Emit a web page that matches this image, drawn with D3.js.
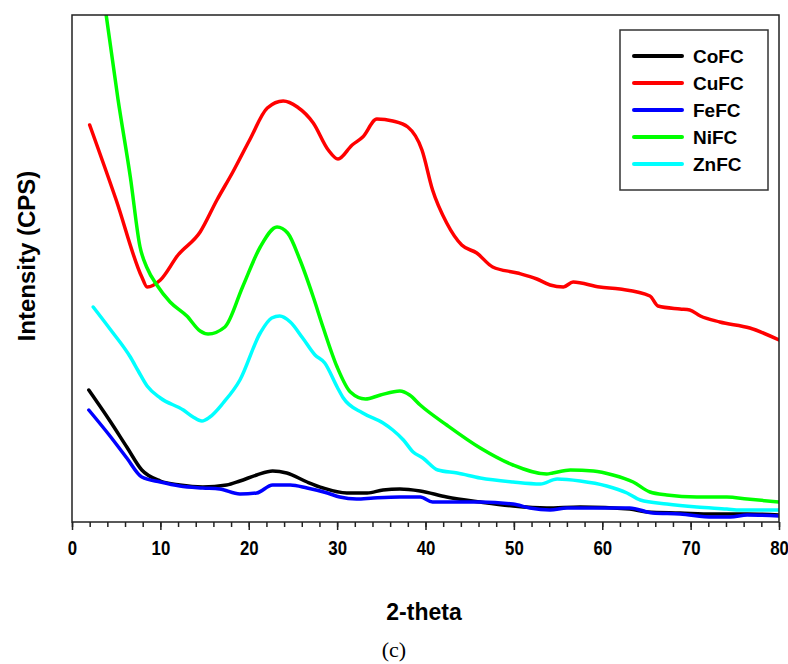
<!DOCTYPE html>
<html>
<head>
<meta charset="utf-8">
<script src="https://cdn.jsdelivr.net/npm/d3@7"></script>
<style>
  body { margin: 0; background: #fff; }
  svg { display: block; }
</style>
</head>
<body>
<svg width="788" height="664"></svg>
<script>
// XRD patterns, intensity (arbitrary CPS units)
var seriesNames = ['CoFC', 'CuFC', 'FeFC', 'NiFC', 'ZnFC'];
var seriesColors = ['#000000', '#ff0000', '#0000ff', '#00ff00', '#00ffff'];
var xTicks = [0, 10, 20, 30, 40, 50, 60, 70, 80];

var coTheta = [1.9, 4.3, 6.2, 7.9, 10.0, 12.2, 14.8, 17.5, 19.0, 20.9, 22.7, 24.3, 26.6, 28.4, 31.1, 33.4, 35.2, 37.1, 39.4, 42.4, 46.2, 49.9, 53.7, 57.5, 63.1, 65.1, 68.8, 72.5, 76.4, 80];
var coVals  = [132, 101, 75, 52, 41, 37, 35, 37, 41, 47, 51, 49, 40, 34, 29, 29, 32, 33, 31, 25, 20, 16, 14, 15, 13, 10, 9, 8, 8, 7];

var cuTheta = [2.0, 5.0, 7.9, 8.5, 10.0, 12.0, 14.5, 16.4, 18.2, 20.1, 22.1, 23.9, 25.5, 27.3, 29.0, 30.1, 31.7, 32.9, 34.5, 36.3, 38.0, 39.6, 40.8, 42.4, 44.1, 45.8, 47.6, 50.4, 52.6, 54.1, 55.6, 56.7, 59.7, 62.0, 65.4, 66.3, 68.8, 69.9, 71.1, 73.3, 76.7, 80];
var cuVals  = [397, 322, 245, 235, 242, 267, 290, 322, 350, 382, 414, 421, 415, 399, 372, 363, 377, 385, 403, 401, 395, 372, 332, 299, 277, 269, 255, 249, 243, 237, 235, 240, 235, 233, 226, 216, 213, 212, 206, 200, 194, 182];

var feTheta = [1.9, 4.3, 6.2, 7.9, 10.0, 12.2, 14.8, 16.7, 19.0, 20.9, 22.7, 24.7, 26.6, 28.9, 30.3, 32.2, 34.1, 37.1, 39.4, 40.8, 43.1, 46.2, 49.9, 51.8, 54.1, 56.0, 59.4, 63.1, 65.7, 68.8, 72.5, 74.5, 76.4, 80];
var feVals  = [112, 86, 64, 45, 40, 36, 34, 33, 28, 29, 37, 37, 34, 29, 25, 23, 24, 25, 25, 20, 20, 20, 18, 14, 12, 14, 14, 14, 9, 8, 5, 5, 7, 6];

var niTheta = [3.5, 5.2, 6.6, 7.7, 8.5, 9.6, 11.1, 13.0, 14.5, 15.4, 17.3, 19.3, 21.3, 23.2, 24.4, 25.8, 27.3, 28.4, 30.0, 31.5, 33.2, 34.9, 37.1, 38.2, 39.4, 42.4, 46.2, 49.9, 53.7, 54.4, 56.4, 59.0, 61.2, 63.5, 65.4, 67.3, 70.7, 74.1, 76.4, 80];
var niVals  = [530, 423, 345, 275, 254, 237, 220, 206, 191, 188, 195, 235, 275, 295, 289, 262, 225, 195, 155, 130, 123, 127, 131, 127, 117, 97, 74, 57, 48, 49, 52, 51, 47, 40, 30, 27, 25, 25, 23, 20];

var znTheta = [2.4, 4.3, 6.6, 7.5, 8.5, 10.0, 12.6, 13.7, 14.7, 15.6, 17.1, 19.0, 21.3, 22.6, 23.5, 24.7, 26.1, 27.5, 28.6, 30.0, 30.7, 32.9, 35.2, 36.3, 37.5, 38.6, 39.7, 41.4, 43.6, 46.2, 49.9, 53.0, 54.9, 57.5, 60.5, 62.8, 64.3, 67.3, 70.7, 74.1, 75.6, 80];
var znVals  = [215, 193, 165, 151, 136, 124, 112, 105, 101, 105, 119, 142, 189, 204, 206, 200, 184, 167, 159, 135, 124, 109, 99, 92, 82, 70, 64, 52, 49, 44, 40, 38, 43, 41, 36, 29, 22, 18, 15, 13, 12, 12];

var svg = d3.select('svg');

// plot box
var plot = {l: 72, r: 779, t: 15, b: 522};

var xScale = d3.scaleLinear().domain([0, 80]).range([plot.l, plot.r]);
var yScale = d3.scaleLinear().domain([0, 507]).range([plot.b, plot.t]);

var series = [
    {name: seriesNames[0], color: seriesColors[0], x: coTheta, y: coVals},
    {name: seriesNames[1], color: seriesColors[1], x: cuTheta, y: cuVals},
    {name: seriesNames[2], color: seriesColors[2], x: feTheta, y: feVals},
    {name: seriesNames[3], color: seriesColors[3], x: niTheta, y: niVals},
    {name: seriesNames[4], color: seriesColors[4], x: znTheta, y: znVals}
];

svg.append('clipPath')
    .attr('id', 'plot-clip')
    .append('rect')
    .attr('x', plot.l)
    .attr('y', plot.t)
    .attr('width', plot.r - plot.l)
    .attr('height', plot.b - plot.t);

var line = d3.line()
    .x(d => xScale(d[0]))
    .y(d => yScale(d[1]))
    .curve(d3.curveMonotoneX);

svg.append('g')
    .attr('clip-path', 'url(#plot-clip)')
    .selectAll('path')
    .data(series)
    .enter().append('path')
    .attr('d', s => line(d3.zip(s.x, s.y)))
    .attr('fill', 'none')
    .attr('stroke', s => s.color)
    .attr('stroke-width', 3.5)
    .attr('stroke-linejoin', 'round')
    .attr('stroke-linecap', 'round');

// frame
svg.append('rect')
    .attr('x', plot.l)
    .attr('y', plot.t)
    .attr('width', plot.r - plot.l)
    .attr('height', plot.b - plot.t)
    .attr('fill', 'none')
    .attr('stroke', '#222')
    .attr('stroke-width', 1.5);

// x axis: minor ticks every 2, major every 10
var minorAxis = d3.axisBottom(xScale)
    .tickValues(d3.range(0, 81, 2))
    .tickSize(5)
    .tickFormat('');
svg.append('g')
    .attr('transform', 'translate(0,' + plot.b + ')')
    .call(minorAxis)
    .call(g => g.select('.domain').remove())
    .selectAll('line')
    .attr('stroke', '#222')
    .attr('stroke-width', 1.5);

var majorAxis = d3.axisBottom(xScale)
    .tickValues(xTicks)
    .tickSize(8)
    .tickPadding(10);
var xg = svg.append('g')
    .attr('transform', 'translate(0,' + plot.b + ')')
    .call(majorAxis);
xg.select('.domain').remove();
xg.selectAll('line').attr('stroke', '#222').attr('stroke-width', 1.5);
// labels are a condensed bold face: squeeze horizontally
xg.selectAll('text')
    .attr('fill', '#000')
    .attr('transform', 'scale(0.8,1)')
    .style('font-family', "'Liberation Sans', Arial, sans-serif")
    .style('font-weight', 'bold')
    .style('font-size', '21px');

// axis titles
svg.append('text')
    .attr('x', 424)
    .attr('y', 620)
    .attr('text-anchor', 'middle')
    .style('font-family', "'Liberation Sans', Arial, sans-serif")
    .style('font-weight', 'bold')
    .style('font-size', '23px')
    .text('2-theta');

svg.append('text')
    .attr('transform', 'translate(35,256) rotate(-90)')
    .attr('text-anchor', 'middle')
    .style('font-family', "'Liberation Sans', Arial, sans-serif")
    .style('font-weight', 'bold')
    .style('font-size', '24px')
    .text('Intensity (CPS)');

svg.append('text')
    .attr('x', 394)
    .attr('y', 657)
    .attr('text-anchor', 'middle')
    .style('font-family', "'Liberation Serif', serif")
    .style('font-size', '22px')
    .text('(c)');

// legend
var legend = svg.append('g').attr('transform', 'translate(620,30)');
legend.append('rect')
    .attr('width', 148)
    .attr('height', 160)
    .attr('fill', '#fff')
    .attr('stroke', '#333')
    .attr('stroke-width', 1.5);

var items = legend.selectAll('.item')
    .data(series)
    .enter().append('g')
    .attr('class', 'item')
    .attr('transform', (d, i) => 'translate(0,' + (26 + i * 27) + ')');
items.append('line')
    .attr('x1', 14).attr('x2', 62)
    .attr('stroke', d => d.color)
    .attr('stroke-width', 4)
    .attr('stroke-linecap', 'round');
items.append('text')
    .attr('x', 73)
    .attr('dy', '0.35em')
    .style('font-family', "'Liberation Sans', Arial, sans-serif")
    .style('font-weight', 'bold')
    .style('font-size', '19px')
    .text(d => d.name);
</script>
</body>
</html>
